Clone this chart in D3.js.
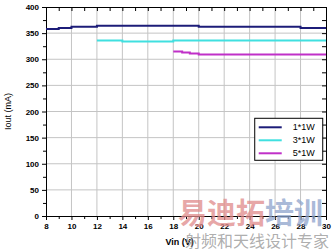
<!DOCTYPE html>
<html>
<head>
<meta charset="utf-8">
<script src="https://cdn.jsdelivr.net/npm/d3@7"></script>
<style>
  body { margin: 0; background: #fff; }
  svg { display: block; font-family: "Liberation Sans", Arial, sans-serif; }
</style>
</head>
<body>
<div id="chart"></div>
<script>
// series values [Vin, Iout]
const series1W = [[8, 358], [9, 360], [10, 362], [11, 362], [12, 364], [14, 364], [16, 364], [18, 364], [19, 364],
  [20, 362], [22, 362], [24, 362], [26, 362], [27, 362], [28, 360], [29, 360], [30, 360]];
const series3W = [[12, 336], [13, 336], [14, 334], [16, 334], [17, 334], [18, 336], [20, 336], [22, 336],
  [24, 336], [26, 336], [28, 336], [30, 336]];
const series5W = [[18, 315], [18.5, 315], [18.7, 313], [19.3, 311], [20, 309], [22, 309], [24, 309],
  [26, 309], [28, 309], [30, 309]];
const seriesNames = ['1*1W', '3*1W', '5*1W'];
const seriesColors = ['#1c1c78', '#40e0e0', '#c030c8'];
const xTicks = [8, 10, 12, 14, 16, 18, 20, 22, 24, 26, 28, 30];
const yTicks = [0, 50, 100, 150, 200, 250, 300, 350, 400];

const width = 332;
const height = 251;
const margin = {top: 7, right: 6, bottom: 35, left: 46};
const w = width - margin.left - margin.right;
const h = height - margin.top - margin.bottom;

const svg = d3.select('#chart')
  .append('svg')
  .attr('width', width)
  .attr('height', height);

const chart = svg.append('g')
  .attr('transform', 'translate(' + margin.left + ',' + margin.top + ')');

const x = d3.scaleLinear().domain([8, 30]).range([0, w]);
const y = d3.scaleLinear().domain([0, 400]).range([h, 0]);

// grid
chart.append('g')
  .selectAll('line')
  .data(xTicks.slice(1, -1))
  .enter()
  .append('line')
  .attr('x1', d => x(d)).attr('x2', d => x(d))
  .attr('y1', 0).attr('y2', h)
  .attr('stroke', '#c4c4c4');
chart.append('g')
  .selectAll('line')
  .data(yTicks.slice(1, -1))
  .enter()
  .append('line')
  .attr('y1', d => y(d)).attr('y2', d => y(d))
  .attr('x1', 0).attr('x2', w)
  .attr('stroke', '#c4c4c4');

// minor ticks
const xMinor = d3.range(9, 30, 2);
const yMinor = d3.range(25, 400, 50);

function styleAxis(g) {
  g.select('.domain').attr('stroke', '#000');
  g.selectAll('.tick line').attr('stroke', '#000');
  g.selectAll('text').attr('font-size', 8).attr('font-weight', 'bold').attr('fill', '#000');
}

chart.append('g')
  .attr('transform', 'translate(0,' + h + ')')
  .call(d3.axisBottom(x).tickValues(xTicks).tickSize(4).tickPadding(3))
  .call(styleAxis);
chart.append('g')
  .attr('transform', 'translate(0,' + h + ')')
  .call(d3.axisBottom(x).tickValues(xMinor).tickSize(3).tickFormat(''))
  .call(g => g.select('.domain').remove());

chart.append('g')
  .call(d3.axisLeft(y).tickValues(yTicks).tickSize(4).tickPadding(3))
  .call(styleAxis);
chart.append('g')
  .call(d3.axisLeft(y).tickValues(yMinor).tickSize(3).tickFormat(''))
  .call(g => g.select('.domain').remove());

// mirrored axes, ticks inward
chart.append('g')
  .call(d3.axisBottom(x).tickValues(xTicks.concat(xMinor)).tickSize(4).tickFormat(''))
  .call(styleAxis);
chart.append('g')
  .attr('transform', 'translate(' + w + ',0)')
  .call(d3.axisLeft(y).tickValues(yTicks.concat(yMinor)).tickSize(4).tickFormat(''))
  .call(styleAxis);

// lines
const line = d3.line()
  .x(d => x(d[0]))
  .y(d => y(d[1]))
  .curve(d3.curveStepAfter);

[series1W, series3W, series5W].forEach((data, i) => {
  chart.append('path')
    .datum(data)
    .attr('d', line)
    .attr('fill', 'none')
    .attr('stroke', seriesColors[i])
    .attr('stroke-width', 2);
});

// legend
const legend = chart.append('g')
  .attr('transform', 'translate(' + (x(24.4) ) + ',' + y(187) + ')');
legend.append('rect')
  .attr('width', 68).attr('height', 42)
  .attr('fill', '#fff').attr('stroke', '#000');
seriesNames.forEach((name, i) => {
  legend.append('line')
    .attr('x1', 4).attr('x2', 27)
    .attr('y1', 9 + i * 13).attr('y2', 9 + i * 13)
    .attr('stroke', seriesColors[i]).attr('stroke-width', 2);
  legend.append('text')
    .attr('x', 60).attr('y', 12 + i * 13)
    .attr('text-anchor', 'end')
    .attr('font-size', 9)
    .text(name);
});

// axis titles
svg.append('text')
  .attr('transform', 'translate(11,' + (margin.top + h / 2) + ') rotate(-90)')
  .attr('text-anchor', 'middle')
  .attr('font-size', 9)
  .text('Iout (mA)');
svg.append('text')
  .attr('x', margin.left + x(18.5))
  .attr('y', 245)
  .attr('text-anchor', 'middle')
  .attr('font-size', 9)
  .attr('font-weight', 'bold')
  .text('Vin (V)');

// watermark
const wm = svg.append('g').attr('font-family', '"Noto Sans CJK SC", sans-serif');
wm.append('text')
  .attr('x', 178).attr('y', 224)
  .attr('font-size', 29).attr('font-weight', 'bold')
  .attr('fill', '#e08a8a').attr('fill-opacity', 0.75)
  .text('易迪拓');
wm.append('text')
  .attr('x', 265).attr('y', 224)
  .attr('font-size', 29).attr('font-weight', 'bold')
  .attr('fill', '#8ea4cc').attr('fill-opacity', 0.75)
  .text('培训');
wm.append('text')
  .attr('x', 185).attr('y', 247)
  .attr('font-size', 16)
  .attr('fill', '#999').attr('fill-opacity', 0.8)
  .text('射频和天线设计专家');
</script>
</body>
</html>
